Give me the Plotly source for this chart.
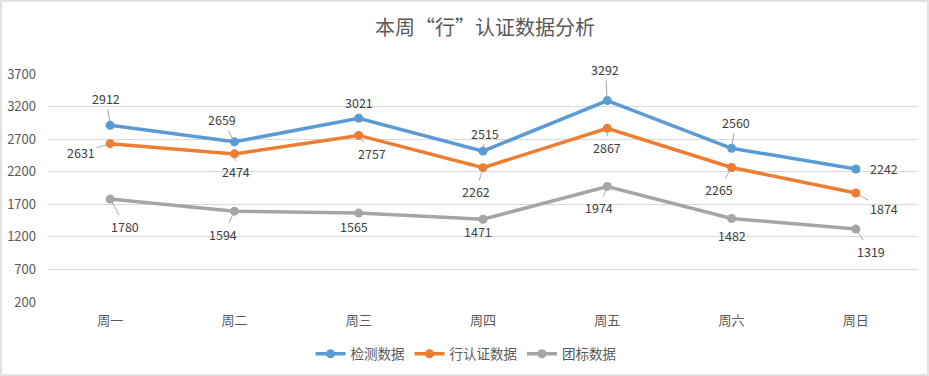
import plotly.graph_objects as go

categories = ["周一", "周二", "周三", "周四", "周五", "周六", "周日"]
series_names = ["检测数据", "行认证数据", "团标数据"]
jiance = [2912, 2659, 3021, 2515, 3292, 2560, 2242]
xingrenzheng = [2631, 2474, 2757, 2262, 2867, 2265, 1874]
tuanbiao = [1780, 1594, 1565, 1471, 1974, 1482, 1319]
y_ticks = [200, 700, 1200, 1700, 2200, 2700, 3200, 3700]

colors = ["#5b9bd5", "#ed7d31", "#a5a5a5"]
series = [jiance, xingrenzheng, tuanbiao]

# label offsets (pixels) and whether a leader line is drawn
label_offsets = [
    [(-4, -27, True), (-12, -22, True), (0, -16, False), (2, -18, True), (-2, -31, True), (4, -26, True), (28, 0, False)],
    [(-29, 9, True), (2, 18, True), (13, 18, True), (-7, 24, True), (0, 19, True), (-13, 22, True), (28, 16, True)],
    [(15, 27, True), (-11, 23, True), (-5, 13, False), (-5, 12, False), (-8, 21, True), (0, 17, False), (15, 22, True)],
]

fig = go.Figure()
for name, vals, col in zip(series_names, series, colors):
    fig.add_trace(go.Scatter(
        x=categories, y=vals, name=name, mode="lines+markers",
        line=dict(color=col, width=3.5),
        marker=dict(color=col, size=9),
    ))

annotations = []
for vals, offs in zip(series, label_offsets):
    for cat, v, (dx, dy, lead) in zip(categories, vals, offs):
        annotations.append(dict(
            x=cat, y=v, xref="x", yref="y", text=str(v),
            showarrow=lead, arrowhead=0, arrowwidth=1, arrowcolor="#a6a6a6",
            standoff=3, ax=dx, ay=dy, axref="pixel", ayref="pixel",
            xshift=0 if lead else dx, yshift=0 if lead else -dy,
            font=dict(family="Noto Sans CJK SC, sans-serif", size=12.5, color="#404040"),
        ))

W, H = 929, 376
ml, mr, mt, mb = 48, 11, 74, 74
pw, ph = W - ml - mr, H - mt - mb

fig.update_layout(
    width=W, height=H,
    margin=dict(l=ml, r=mr, t=mt, b=mb, autoexpand=False),
    paper_bgcolor="white", plot_bgcolor="white",
    font=dict(family="Noto Sans CJK SC, sans-serif", size=12, color="#595959"),
    title=dict(text="本周“行”认证数据分析", x=485 / W, xanchor="center",
               y=1 - 28 / H, yanchor="middle",
               font=dict(size=20, color="#595959")),
    xaxis=dict(range=[-0.5, 6.5], showgrid=False, showline=False, ticks="", zeroline=False,
               automargin=False, ticklabelstandoff=9,
               tickfont=dict(size=13, color="#595959")),
    yaxis=dict(range=[200, 3700], tickvals=y_ticks, showgrid=True,
               gridcolor="#d9d9d9", gridwidth=1, zeroline=False, showline=False,
               automargin=False, ticks="", ticklabelstandoff=11,
               tickfont=dict(size=13, color="#595959")),
    showlegend=True,
    legend=dict(orientation="h", xref="container", yref="container",
                x=466 / W, xanchor="center",
                y=(H - 354) / H, yanchor="middle",
                font=dict(size=13.5, color="#595959")),
    annotations=annotations,
    shapes=[dict(type="rect", xref="paper", yref="paper",
                 x0=-(ml - 1) / pw, x1=1 + (mr - 1) / pw,
                 y0=-(mb - 1) / ph, y1=1 + (mt - 1) / ph,
                 line=dict(color="#d9d9d9", width=1.5), layer="below")],
)

fig.write_html("out.html", config={"displayModeBar": False},
               post_script="document.body.style.margin='0';document.body.style.overflow='hidden';")
